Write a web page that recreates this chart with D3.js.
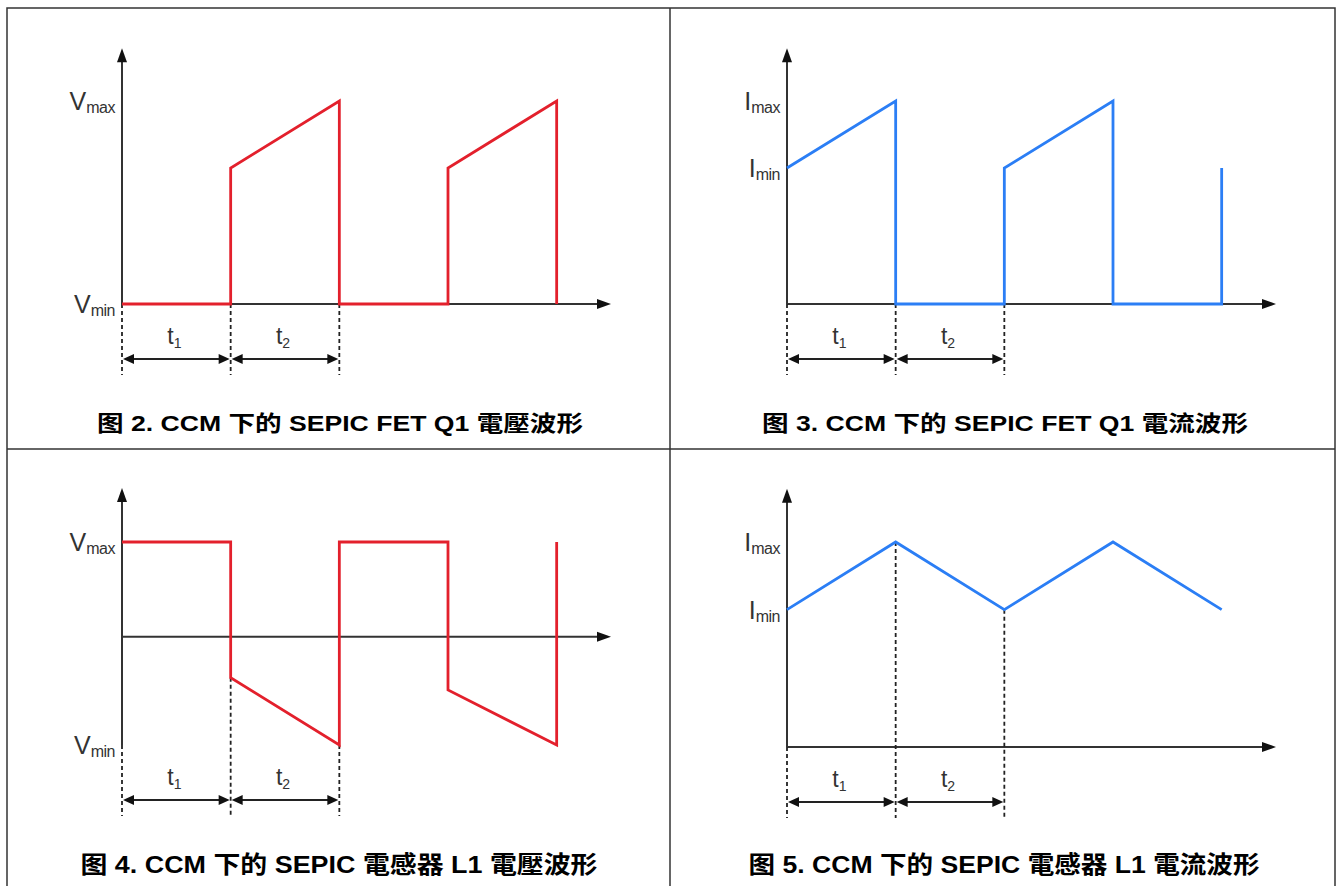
<!DOCTYPE html>
<html>
<head>
<meta charset="utf-8">
<script src="https://cdn.jsdelivr.net/npm/d3@7/dist/d3.min.js"></script>
<style>
  body { margin: 0; background: #fff; }
  text { font-family: "Liberation Sans", Arial, "Noto Sans CJK SC", sans-serif; }
  .caption { font-family: "Liberation Sans", Arial, "Noto Sans CJK SC", sans-serif; font-weight: bold; }
</style>
</head>
<body>
<script>
// waveform data (time in switching intervals, amplitude normalised)
var stepTimes = [0, 1, 1, 2, 2, 3, 3, 4, 4];
var q1Voltage = [0, 0, 0.67, 1, 0, 0, 0.67, 1, 0];
var q1Current = [0.67, 1, 0, 0, 0.67, 1, 0, 0, 0.67];
var l1Voltage = [1, 1, -0.43, -1.14, 1, 1, -0.56, -1.14, 1];
var triTimes = [0, 1, 2, 3, 4];
var l1Current = [0.67, 1, 0.67, 1, 0.67];

var intervalEdges = [0, 1, 2];
var intervalNames = ["1", "2"];

var captions = [
    "图 2. CCM 下的 SEPIC FET Q1 電壓波形",
    "图 3. CCM 下的 SEPIC FET Q1 電流波形",
    "图 4. CCM 下的 SEPIC 電感器 L1 電壓波形",
    "图 5. CCM 下的 SEPIC 電感器 L1 電流波形"
];

var red = "#e3202c", blue = "#2b7ef5", axisColor = "#333";

var svg = d3.select("body").append("svg")
    .attr("width", 1338)
    .attr("height", 886);

// table frame
svg.append("rect")
    .attr("x", 7).attr("y", 8)
    .attr("width", 1328).attr("height", 900)
    .attr("fill", "none").attr("stroke", axisColor).attr("stroke-width", 1.5);
svg.append("line")
    .attr("x1", 7).attr("x2", 1335).attr("y1", 449).attr("y2", 449)
    .attr("stroke", axisColor).attr("stroke-width", 1.5);
svg.append("line")
    .attr("x1", 670).attr("x2", 670).attr("y1", 8).attr("y2", 886)
    .attr("stroke", axisColor).attr("stroke-width", 1.5);

var panels = [
    { left: 122, times: stepTimes, values: q1Voltage, color: red, sym: "V",
      yDomain: [0, 1], yRange: [304, 101], yTop: 1.26, axisAt: 0, baseAt: 0,
      labels: [{ v: 1, sub: "max" }, { v: 0, sub: "min" }],
      caption: captions[0], cx: 340, cy: 431, cw: 486, cs: 22 },
    { left: 787, times: stepTimes, values: q1Current, color: blue, sym: "I",
      yDomain: [0, 1], yRange: [304, 101], yTop: 1.26, axisAt: 0, baseAt: 0,
      labels: [{ v: 1, sub: "max" }, { v: 0.67, sub: "min" }],
      caption: captions[1], cx: 1005, cy: 431, cw: 486, cs: 22 },
    { left: 122, times: stepTimes, values: l1Voltage, color: red, sym: "V",
      yDomain: [-1.14, 1], yRange: [745, 542], yTop: 1.57, axisAt: 0, baseAt: -1.14,
      labels: [{ v: 1, sub: "max" }, { v: -1.14, sub: "min" }],
      caption: captions[2], cx: 339, cy: 873, cw: 517, cs: 24 },
    { left: 787, times: triTimes, values: l1Current, color: blue, sym: "I",
      yDomain: [0, 1], yRange: [747, 542], yTop: 1.26, axisAt: 0, baseAt: 0,
      labels: [{ v: 1, sub: "max" }, { v: 0.67, sub: "min" }],
      caption: captions[3], cx: 1004, cy: 873, cw: 511, cs: 24 }
];

panels.forEach(drawPanel);

function drawPanel(p) {
    var x = d3.scaleLinear().domain([0, 4.5]).range([p.left, p.left + 489]);
    var y = d3.scaleLinear().domain(p.yDomain).range(p.yRange);
    var g = svg.append("g");
    var x0 = x(0), axisY = y(p.axisAt), baseY = y(p.baseAt), topY = y(p.yTop);

    // y axis with arrow
    g.append("line")
        .attr("x1", x0).attr("x2", x0).attr("y1", topY + 10).attr("y2", baseY)
        .attr("stroke", axisColor).attr("stroke-width", 2);
    g.append("path")
        .attr("d", "M" + x0 + "," + topY + "L" + (x0 + 5) + "," + (topY + 14) + "L" + (x0 - 5) + "," + (topY + 14) + "Z")
        .attr("fill", "#111");

    // x axis with arrow
    var xEnd = x(4.5);
    g.append("line")
        .attr("x1", x0).attr("x2", xEnd - 10).attr("y1", axisY).attr("y2", axisY)
        .attr("stroke", axisColor).attr("stroke-width", 2);
    g.append("path")
        .attr("d", "M" + xEnd + "," + axisY + "L" + (xEnd - 14) + "," + (axisY - 5) + "L" + (xEnd - 14) + "," + (axisY + 5) + "Z")
        .attr("fill", "#111");

    // dashed interval markers
    intervalEdges.forEach(function (t) {
        var lows = p.times.map(function (tt, i) { return tt === t ? y(p.values[i]) : -Infinity; });
        var start = t === 0 ? baseY : d3.max(lows);
        g.append("line")
            .attr("x1", x(t)).attr("x2", x(t))
            .attr("y1", start).attr("y2", baseY + 71)
            .attr("stroke", "#222").attr("stroke-width", 1.8)
            .attr("stroke-dasharray", "4,3");
    });

    // waveform
    var line = d3.line()
        .x(function (d) { return x(d[0]); })
        .y(function (d) { return y(d[1]); });
    g.append("path")
        .datum(d3.zip(p.times, p.values))
        .attr("d", line)
        .attr("fill", "none")
        .attr("stroke", p.color)
        .attr("stroke-width", 2.8)
        .attr("stroke-linejoin", "miter");

    // dimension arrows t1, t2
    var arrowY = baseY + 55;
    intervalNames.forEach(function (name, i) {
        var a = x(intervalEdges[i]) + 1, b = x(intervalEdges[i + 1]) - 1;
        g.append("line")
            .attr("x1", a + 8).attr("x2", b - 8).attr("y1", arrowY).attr("y2", arrowY)
            .attr("stroke", "#222").attr("stroke-width", 2);
        g.append("path")
            .attr("d", "M" + a + "," + arrowY + "L" + (a + 11) + "," + (arrowY - 5) + "L" + (a + 11) + "," + (arrowY + 5) + "Z" +
                "M" + b + "," + arrowY + "L" + (b - 11) + "," + (arrowY - 5) + "L" + (b - 11) + "," + (arrowY + 5) + "Z")
            .attr("fill", "#111");
        var tl = g.append("text")
            .attr("x", (a + b) / 2 - 2)
            .attr("y", baseY + 40)
            .attr("text-anchor", "middle")
            .attr("fill", "#333")
            .style("font-size", "23px");
        tl.append("tspan").text("t");
        tl.append("tspan").attr("dy", 4).style("font-size", "14px").text(name);
    });

    // level labels
    p.labels.forEach(function (l) {
        var t = g.append("text")
            .attr("x", x0 - 7)
            .attr("y", y(l.v) + 9)
            .attr("text-anchor", "end")
            .attr("fill", "#333")
            .style("font-size", "25px");
        t.append("tspan").text(p.sym);
        t.append("tspan").attr("dy", 3).style("font-size", "16px").style("letter-spacing", "-0.5px").text(l.sub);
    });

    // caption
    g.append("text")
        .attr("class", "caption")
        .attr("x", p.cx)
        .attr("y", p.cy)
        .attr("text-anchor", "middle")
        .attr("textLength", p.cw)
        .attr("lengthAdjust", "spacingAndGlyphs")
        .style("font-size", p.cs + "px")
        .attr("fill", "#000")
        .text(p.caption);
}
</script>
</body>
</html>
